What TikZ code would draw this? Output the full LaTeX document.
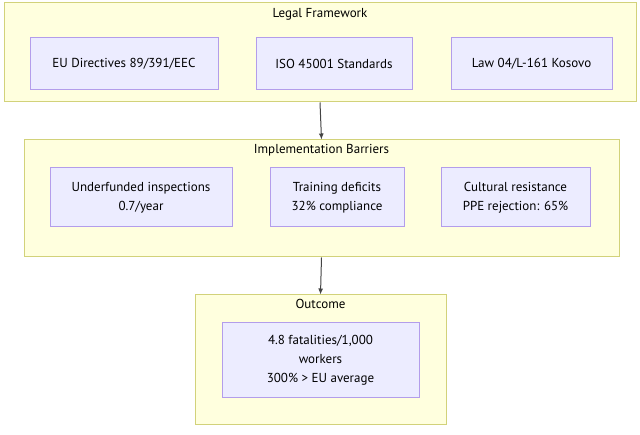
\documentclass[tikz,border=0pt]{standalone}
\usepackage{fontspec}
\setmainfont{PT Sans}
\usetikzlibrary{arrows.meta}
\definecolor{clusterfill}{HTML}{FFFFDE}
\definecolor{clusterline}{HTML}{D2D27A}
\definecolor{nodefill}{HTML}{ECECFF}
\definecolor{nodeline}{HTML}{B39DEB}
\definecolor{edgecol}{HTML}{444444}
\begin{document}
\begin{tikzpicture}[x=1pt,y=-1pt,
    cluster/.style={draw=clusterline,fill=clusterfill,line width=1pt,inner sep=0pt},
    item/.style={draw=nodeline,fill=nodefill,line width=1pt,align=center,
      font=\fontsize{13}{19}\selectfont,inner sep=0pt},
    title/.style={font=\fontsize{13}{15}\selectfont},
    link/.style={draw=edgecol,line width=1pt,-{Latex[length=6pt,width=5pt]}}]
            \useasboundingbox (0,0) rectangle (640,435);
            % Clusters
            \node[cluster,minimum width=632,minimum height=99] (legal) at (320,52.5) {};
            \node[cluster,minimum width=595,minimum height=117] (barriers) at (321.5,198.5) {};
            \node[cluster,minimum width=251,minimum height=130] (outcome) at (320.5,360) {};
            % Cluster titles
            \node[title] (legalT) at (320,14) {Legal Framework};
            \node[title] (barriersT) at (321.5,150) {Implementation Barriers};
            \node[title] (outcomeT) at (320.5,304) {Outcome};
            % Legal framework nodes
            \node[item,minimum width=188,minimum height=52] (eu) at (124,64) {EU Directives 89/391/EEC};
            \node[item,minimum width=156,minimum height=52] (iso) at (334,64) {ISO 45001 Standards};
            \node[item,minimum width=161,minimum height=52] (law) at (531.5,64) {Law 04/L-161 Kosovo};
            % Barrier nodes
            \node[item,minimum width=182,minimum height=59] (insp) at (141,197.5) {Underfunded inspections\\0.7/year};
            \node[item,minimum width=134,minimum height=59] (train) at (337,197.5) {Training deficits\\32\% compliance};
            \node[item,minimum width=149,minimum height=59] (cult) at (515.5,197.5) {Cultural resistance\\PPE rejection: 65\%};
            % Outcome node
            \node[item,minimum width=197,minimum height=75] (fatal) at (320.5,360.5) {4.8 fatalities/1,000\\workers\\300\% > EU average};
            % Links between clusters
            \draw[link] (legal.south) -- (barriers.north);
            \draw[link] (barriers.south) -- (outcome.north);
        \end{tikzpicture}
\end{document}
